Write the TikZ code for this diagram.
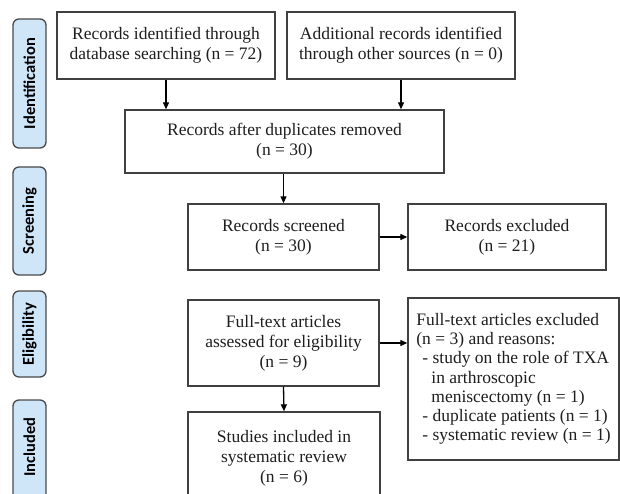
\documentclass[tikz,border=0pt]{standalone}
\usepackage{fontspec}
\setmainfont{Liberation Serif}
\newfontfamily\pillfont{Carlito}
\usetikzlibrary{arrows.meta}
\definecolor{pillfill}{HTML}{CFE6F9}
\definecolor{pillline}{HTML}{4A4A4A}
\definecolor{boxline}{HTML}{404040}
\definecolor{txt}{HTML}{1E1E1E}
\begin{document}
\begin{tikzpicture}[x=1pt,y=-1pt,
  box/.style={draw=boxline,line width=1.4pt,fill=white,inner sep=3pt,align=center,
    text=txt,font=\fontsize{17.5}{20}\selectfont},
  pill/.style={draw=pillline,fill=pillfill,line width=1.3pt,rounded corners=6pt,
    minimum width=33pt,inner sep=0pt},
  pilltext/.style={rotate=90,font=\pillfont\bfseries\fontsize{16.5}{18}\selectfont,text=black},
  arr/.style={-{Triangle[length=7pt,width=6pt]},line width=1.3pt,draw=black}]
\useasboundingbox (0,0) rectangle (620,494);
\clip (0,0) rectangle (620,494);
\fill[white] (0,0) rectangle (620,494);
% phase pills
\node[pill,minimum height=129pt] (p1) at (29.5,83.5) {};
\node[pilltext] (t1) at (p1.center) {Identification};
\node[pill,minimum height=108pt] (p2) at (29.5,221) {};
\node[pilltext] (t2) at (p2.center) {Screening};
\node[pill,minimum height=86pt] (p3) at (29.5,334) {};
\node[pilltext] (t3) at (p3.center) {Eligibility};
\node[pill,minimum height=105pt] (p4) at (29.5,452.5) {};
\node[pilltext] (t4) at (29.5,447) {Included};
% boxes
\node[box,minimum width=218pt,minimum height=67pt] (A) at (166,45.5)
  {Records identified through\\database searching (n = 72)};
\node[box,minimum width=228pt,minimum height=67pt] (B) at (401,45.5)
  {Additional records identified\\through other sources (n = 0)};
\node[box,minimum width=319pt,minimum height=63pt] (C) at (284.5,141.5)
  {Records after duplicates removed\\(n = 30)};
\node[box,minimum width=191pt,minimum height=66pt] (D) at (283.5,237)
  {Records screened\\(n = 30)};
\node[box,minimum width=198pt,minimum height=66pt] (E) at (507,237)
  {Records excluded\\(n = 21)};
\node[box,minimum width=191pt,minimum height=86pt] (F) at (283.5,343)
  {Full-text articles\\assessed for eligibility\\(n = 9)};
\node[box,minimum width=211pt,minimum height=162pt,align=left,
  font=\fontsize{17.5}{19.2}\selectfont] (G) at (513.5,379)
  {Full-text articles excluded\\(n = 3) and reasons:\\
   \hspace*{6pt}- study on the role of TXA\\
   \hspace*{15pt}in arthroscopic\\
   \hspace*{15pt}meniscectomy (n = 1)\\
   \hspace*{6pt}- duplicate patients (n = 1)\\
   \hspace*{6pt}- systematic review (n = 1)};
\node[box,minimum width=192pt,minimum height=92pt] (H) at (284,458)
  {Studies included in\\systematic review\\(n = 6)};
% connectors
\draw[arr] (A.south) -- (A.south |- C.north);
\draw[arr] (B.south) -- (B.south |- C.north);
\draw[arr] (D.north |- C.south) -- (D.north);
\draw[arr] (D.east) -- (E.west);
\draw[arr] (F.east) -- (F.east -| G.west);
\draw[arr] (F.south) -- (H.north);
\end{tikzpicture}
\end{document}
